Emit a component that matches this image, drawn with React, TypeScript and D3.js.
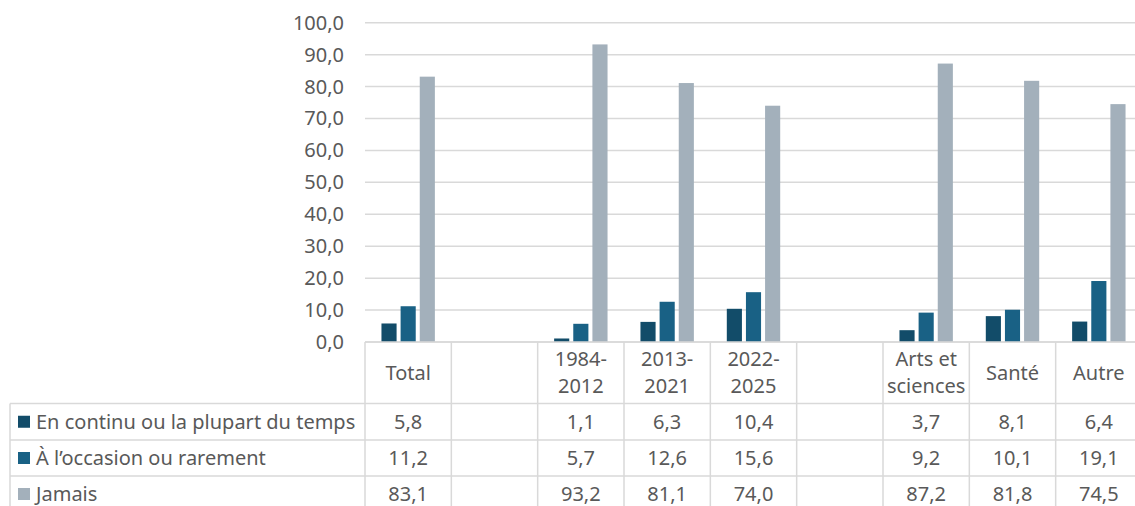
import * as d3 from 'd3';

const categories = ['Total', '', '1984-\n2012', '2013-\n2021', '2022-\n2025', '', 'Arts et\nsciences', 'Santé', 'Autre'];
const seriesNames = ['En continu ou la plupart du temps', 'À l’occasion ou rarement', 'Jamais'];
const continu = [5.8, null, 1.1, 6.3, 10.4, null, 3.7, 8.1, 6.4];
const occasion = [11.2, null, 5.7, 12.6, 15.6, null, 9.2, 10.1, 19.1];
const jamais = [83.1, null, 93.2, 81.1, 74.0, null, 87.2, 81.8, 74.5];
const yTicks = [0, 10, 20, 30, 40, 50, 60, 70, 80, 90, 100];
const colors = ['#124c69', '#196185', '#a3b0bb'];

const W = 1135;
const H = 506;
const left = 365;
const right = 1142;
const top = 22.7;
const bottom = 342;
const rowH = [342, 403.5, 440, 476, 512];
const font = "'Noto Sans', Inter, sans-serif";
const fs = 20;
const textColor = '#595959';
const lineColor = '#d9d9d9';

export default function App() {
  const series = [continu, occasion, jamais];
  const fmt = (v: number) => v.toFixed(1).replace('.', ',');

  const x0 = d3.scaleBand<number>().domain(d3.range(categories.length)).range([left, right]);
  const cw = x0.bandwidth();
  const x1 = d3.scaleBand<number>().domain([0, 1, 2]).range([cw / 2 - 26.7, cw / 2 + 26.7]).paddingInner(0.21);
  const y = d3.scaleLinear().domain([0, 100]).range([bottom, top]);

  return (
    <svg width={W} height={H} style={{ position: 'absolute', left: 0, top: 0, fontFamily: font }}>
      {/* gridlines */}
      {yTicks.map((t) => (
        <g key={t}>
          <line x1={left} x2={right} y1={y(t)} y2={y(t)} stroke={lineColor} strokeWidth={1.5} />
          <text x={344} y={y(t)} dy="0.35em" textAnchor="end" fontSize={fs} fill={textColor}>{fmt(t)}</text>
        </g>
      ))}

      {/* bars */}
      {series.map((vals, si) =>
        vals.map((v, ci) =>
          v == null ? null : (
            <rect key={`${si}-${ci}`} x={(x0(ci) as number) + (x1(si) as number)} width={x1.bandwidth()}
              y={y(v)} height={y(0) - y(v)} fill={colors[si]} />
          )
        )
      )}

      {/* data table */}
      <g stroke={lineColor} strokeWidth={1.5}>
        <line x1={left} x2={right} y1={bottom} y2={bottom} />
        {rowH.slice(1, 4).map((ry) => (
          <line key={ry} x1={10} x2={right} y1={ry} y2={ry} />
        ))}
        <line x1={10} x2={10} y1={rowH[1]} y2={H} />
        {d3.range(categories.length + 1).map((i) => {
          const xx = i < categories.length ? (x0(i) as number) : right;
          return <line key={i} x1={xx} x2={xx} y1={bottom} y2={H} />;
        })}
      </g>

      {categories.map((c, ci) => {
        const lines = c.split('\n');
        const cx = (x0(ci) as number) + cw / 2;
        const cy = (rowH[0] + rowH[1]) / 2;
        return (
          <text key={ci} x={cx} textAnchor="middle" fontSize={fs} fill={textColor}>
            {lines.map((l, li) => (
              <tspan key={li} x={cx} y={cy + (li - (lines.length - 1) / 2) * 27} dy="0.35em">{l}</tspan>
            ))}
          </text>
        );
      })}

      {seriesNames.map((name, si) => {
        const cy = (rowH[si + 1] + rowH[si + 2]) / 2;
        return (
          <g key={name}>
            <rect x={18} y={cy - 6} width={12} height={12} fill={colors[si]} />
            <text x={36} y={cy} dy="0.35em" fontSize={fs} fill={textColor}>{name}</text>
            {series[si].map((v, ci) =>
              v == null ? null : (
                <text key={ci} x={(x0(ci) as number) + cw / 2} y={cy} dy="0.35em" textAnchor="middle"
                  fontSize={fs} fill={textColor}>{fmt(v)}</text>
              )
            )}
          </g>
        );
      })}
    </svg>
  );
}
